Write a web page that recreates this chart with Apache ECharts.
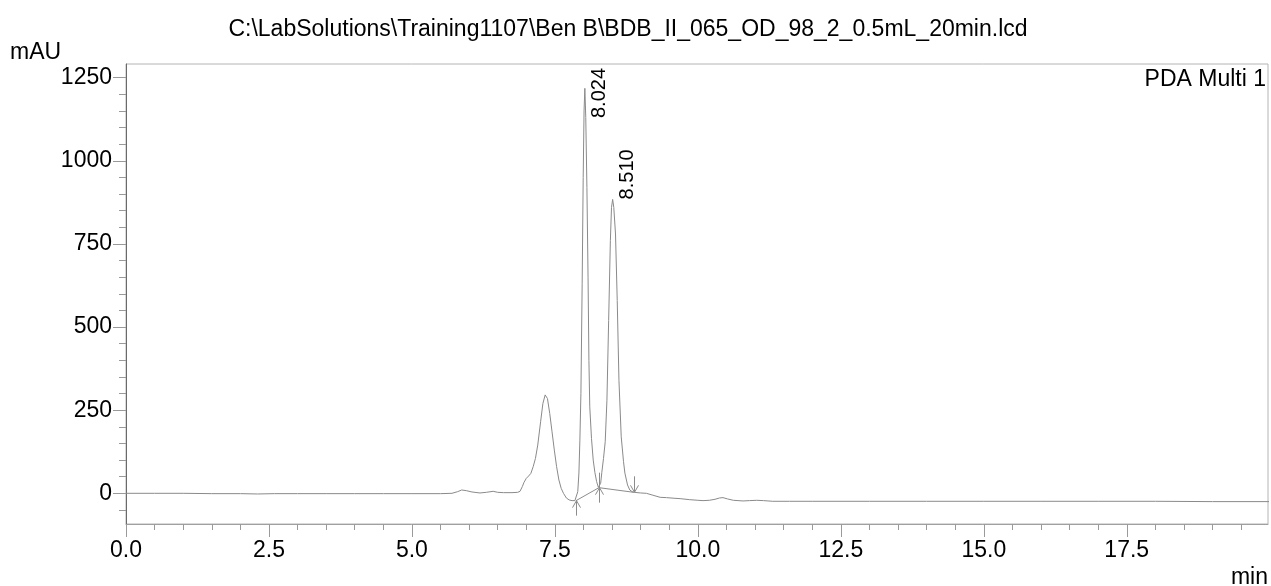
<!DOCTYPE html>
<html><head><meta charset="utf-8">
<script src="https://cdn.jsdelivr.net/npm/echarts@6/dist/echarts.min.js"></script>
<style>html,body{margin:0;padding:0;background:#fff}#c{width:1271px;height:586px}</style>
</head><body><div id="c"></div>
<script>
const titleText = 'C:\\LabSolutions\\Training1107\\Ben B\\BDB_II_065_OD_98_2_0.5mL_20min.lcd';
const yUnit = 'mAU';
const xUnit = 'min';
const channelName = 'PDA Multi 1';

const times = [0,0.5,1,1.5,2,2.3,2.6,3,3.5,4,4.5,5,5.5,5.7,5.8,5.87,5.95,6.05,6.19,6.3,6.42,6.5,6.6,6.75,6.85,6.89,6.93,6.96,7.0,7.04,7.08,7.12,7.16,7.2,7.25,7.29,7.33,7.37,7.41,7.45,7.49,7.53,7.57,7.61,7.65,7.7,7.75,7.8,7.85,7.88,7.9,7.92,7.937,7.955,7.977,7.995,8.01,8.024,8.04,8.06,8.08,8.095,8.11,8.14,8.17,8.2,8.23,8.26,8.28,8.3,8.32,8.35,8.38,8.41,8.44,8.47,8.49,8.51,8.53,8.56,8.59,8.62,8.66,8.7,8.724,8.77,8.81,8.85,8.89,9.0,9.1,9.2,9.34,9.45,9.6,9.69,9.85,10.0,10.09,10.2,10.3,10.38,10.44,10.52,10.62,10.79,10.9,11.03,11.15,11.31,11.6,12,13,14,15,16,17,18,19,20];
const values = [0,0,0,-1,-1,-2,-1,-1,-1,-1,-1,-1,-1,0,5,10,8,4,1,3,6,3,2,2,3,6,20,33,45,52,60,80,105,145,215,270,296,285,240,185,130,80,40,15,0,-14,-20,-22,-22,-18,5,61,160,300,630,950,1150,1218,1130,920,650,400,260,165,100,62,35,18,16,30,62,105,155,280,520,760,860,884,860,780,580,340,170,95,61,25,10,5,3,1,0,-5,-12,-13,-15,-16,-19,-21,-22,-21,-18,-14,-13,-17,-21,-23,-22,-21,-22,-24,-24,-24,-24,-24,-24,-24,-24,-24,-25,-25];

const peakTimes = [8.024, 8.510];
const peakHeights = [1218, 884];
const peakLabels = ['8.024', '8.510'];

const baselineTimes = [7.87, 8.27, 8.88];
const baselineValues = [-22, 17, 3];
const markerKinds = ['start', 'split', 'end'];

const xTicks = [0, 2.5, 5, 7.5, 10, 12.5, 15, 17.5];
const yTicks = [0, 250, 500, 750, 1000, 1250];
const xMin = 0, xMax = 19.97;
const yMin = -92.3, yMax = 1291.2;

const xMinor = [];
for (let i = 0; i * 0.5 <= xMax; i++) { const v = i * 0.5; if (xTicks.indexOf(v) < 0) xMinor.push(v); }
const yMinor = [];
for (let v = -50; v <= 1250; v += 50) { if (yTicks.indexOf(v) < 0) yMinor.push(v); }

const FONT = '"Liberation Sans", Arial, sans-serif';
const FS = 23;
const chart = echarts.init(document.getElementById('c'), null, {renderer: 'canvas'});

const tickColor = '#9a9a9a';
chart.setOption({
  animation: false,
  backgroundColor: '#fff',
  grid: {left: 126, right: 3, top: 64, bottom: 62, show: true, borderColor: '#b4b4b4', borderWidth: 1, backgroundColor: 'transparent'},
  xAxis: [
    {type: 'value', min: xMin, max: xMax, position: 'bottom',
      axisLine: {show: true, onZero: false, lineStyle: {color: '#a0a0a0', width: 1}},
      axisTick: {show: true, inside: false, customValues: xTicks, length: 13, lineStyle: {color: tickColor}},
      axisLabel: {show: true, customValues: xTicks, formatter: v => v.toFixed(1), fontSize: FS, color: '#000', fontFamily: FONT, margin: 15},
      splitLine: {show: false}},
    {type: 'value', min: xMin, max: xMax, position: 'bottom',
      axisLine: {show: false, onZero: false},
      axisTick: {show: true, inside: false, customValues: xMinor, length: 6, lineStyle: {color: tickColor}},
      axisLabel: {show: false}, splitLine: {show: false}}
  ],
  yAxis: [
    {type: 'value', min: yMin, max: yMax, position: 'left',
      axisLine: {show: true, onZero: false, lineStyle: {color: '#6a6a6a', width: 1}},
      axisTick: {show: true, inside: false, customValues: yTicks, length: 13, lineStyle: {color: tickColor}},
      axisLabel: {show: true, customValues: yTicks, formatter: v => String(v), fontSize: FS, color: '#000', fontFamily: FONT, margin: 14},
      splitLine: {show: false}},
    {type: 'value', min: yMin, max: yMax, position: 'left',
      axisLine: {show: false, onZero: false},
      axisTick: {show: true, inside: false, customValues: yMinor, length: 7, lineStyle: {color: tickColor}},
      axisLabel: {show: false}, splitLine: {show: false}}
  ],
  graphic: [
    {type: 'text', x: 628, y: 30, style: {text: titleText, font: FS + 'px ' + FONT, fill: '#000', textAlign: 'center', textVerticalAlign: 'middle', align: 'center', verticalAlign: 'middle'}},
    {type: 'text', x: 10, y: 53, style: {text: yUnit, font: FS + 'px ' + FONT, fill: '#000', textAlign: 'left', textVerticalAlign: 'middle', align: 'left', verticalAlign: 'middle'}},
    {type: 'text', x: 1268, y: 578, style: {text: xUnit, font: FS + 'px ' + FONT, fill: '#000', textAlign: 'right', textVerticalAlign: 'middle', align: 'right', verticalAlign: 'middle'}},
    {type: 'text', x: 1266, y: 80, style: {text: channelName, font: FS + 'px ' + FONT, fill: '#000', textAlign: 'right', textVerticalAlign: 'middle', align: 'right', verticalAlign: 'middle'}}
  ],
  series: [
    {type: 'line', xAxisIndex: 0, yAxisIndex: 0, data: baselineTimes.map((t, i) => [t, baselineValues[i]]),
      showSymbol: false, symbol: 'none', lineStyle: {color: '#8c8c8c', width: 1}, z: 3, silent: true},
    {type: 'line', xAxisIndex: 0, yAxisIndex: 0, data: times.map((t, i) => [t, values[i]]),
      showSymbol: false, symbol: 'none', lineStyle: {color: '#8a8a8a', width: 1}, z: 4, silent: true},
    {type: 'custom', xAxisIndex: 0, yAxisIndex: 0, silent: true, z: 5,
      data: baselineTimes.map((t, i) => [t, baselineValues[i], i]),
      renderItem: function (params, api) {
        const p = api.coord([api.value(0), api.value(1)]);
        const kind = markerKinds[api.value(2)];
        const x = Math.round(p[0]) + 0.5, y = p[1];
        const st = {stroke: '#8c8c8c', lineWidth: 1, fill: null};
        let stem, head;
        if (kind === 'start') {
          stem = [[x, y], [x, y + 15]];
          head = [[x - 4, y + 7], [x, y], [x + 4, y + 7]];
        } else if (kind === 'split') {
          stem = [[x, y - 15], [x, y + 15]];
          head = [[x - 4, y + 7], [x, y], [x + 4, y + 7]];
        } else {
          stem = [[x, y - 16], [x, y]];
          head = [[x - 4, y - 7], [x, y], [x + 4, y - 7]];
        }
        return {type: 'group', children: [
          {type: 'polyline', shape: {points: stem}, style: st},
          {type: 'polyline', shape: {points: head}, style: st}
        ]};
      }},
    {type: 'custom', xAxisIndex: 0, yAxisIndex: 0, silent: true, z: 6,
      data: peakTimes.map((t, i) => [t, peakHeights[i], i]),
      renderItem: function (params, api) {
        const p = api.coord([api.value(0), api.value(1)]);
        const topY = api.coord([0, yMax])[1];
        const bottom = Math.max(p[1], topY + 54);
        return {type: 'text', x: p[0] + 15, y: bottom, rotation: Math.PI / 2,
          style: {text: peakLabels[api.value(2)], font: '20px ' + FONT, fill: '#000',
            textAlign: 'left', textVerticalAlign: 'middle', align: 'left', verticalAlign: 'middle'}};
      }}
  ]
});
</script>
</body></html>
